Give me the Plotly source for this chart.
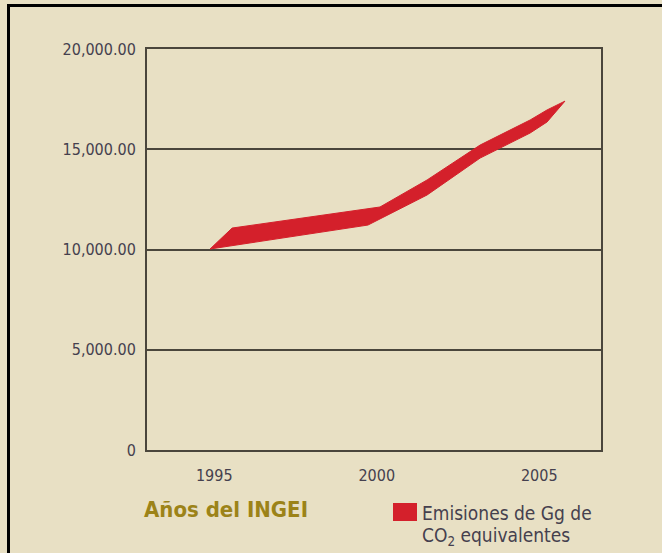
import plotly.graph_objects as go

# ---- data ----
upper_years = [1994.87, 1995.55, 2000.10, 2001.55, 2003.18, 2004.72, 2005.24, 2005.79]
upper_vals = [10025, 11070, 12120, 13470, 15210, 16460, 16960, 17400]
lower_years = [1994.87, 1999.73, 2001.55, 2003.18, 2004.72, 2005.24, 2005.79]
lower_vals = [10025, 11220, 12720, 14560, 15810, 16360, 17400]

x_tick_vals = [1995, 2000, 2005]
x_tick_text = ["1995", "2000", "2005"]
y_tick_vals = [0, 5000, 10000, 15000, 20000]
y_tick_text = ["0", "5,000.00", "10,000.00", "15,000.00", "20,000.00"]

x_title = "Años del INGEI"
legend_line1 = "Emisiones de Gg de"
legend_line2 = "CO<sub>2</sub> equivalentes"

# ---- style ----
W, H = 662, 553
L, R, T, B = 147, 61, 49, 103
PW, PH = W - L - R, H - T - B
BG = "#E8E0C4"
RED = "#D4202B"
GRID = "#4a463c"
TXT = "#45404e"
GOLD = "#9C8318"
FONT = "DejaVu Sans Condensed, Liberation Sans, sans-serif"


def px(xp):
    return (xp - L) / PW


def py(yp):
    return (H - B - yp) / PH


poly_x = upper_years + lower_years[::-1]
poly_y = upper_vals + lower_vals[::-1]

fig = go.Figure()
fig.add_trace(go.Scatter(
    x=poly_x, y=poly_y, mode="lines", fill="toself",
    fillcolor=RED, line=dict(color=RED, width=1),
    name="Emisiones de Gg de CO2 equivalentes", showlegend=False,
    hoverinfo="skip",
))

fig.update_layout(
    width=W, height=H,
    margin=dict(l=L, r=R, t=T, b=B),
    paper_bgcolor=BG, plot_bgcolor=BG,
    font=dict(family=FONT, color=TXT, size=16),
    showlegend=False,
)

fig.update_xaxes(
    range=[1992.93, 2006.90],
    tickvals=x_tick_vals, ticktext=x_tick_text,
    showgrid=False, zeroline=False,
    showline=True, mirror=True, linecolor=GRID, linewidth=2,
    ticks="", ticklabelstandoff=10,
    tickfont=dict(family=FONT, size=16, color=TXT),
)
fig.update_yaxes(
    range=[0, 20000],
    tickvals=y_tick_vals, ticktext=y_tick_text,
    showgrid=True, gridcolor=GRID, gridwidth=2, zeroline=False,
    showline=True, mirror=True, linecolor=GRID, linewidth=2,
    ticks="", ticklabelstandoff=6,
    tickfont=dict(family=FONT, size=16, color=TXT),
)

shapes = [
    # outer frame (top and left edges)
    dict(type="line", xref="paper", yref="paper",
         x0=px(7), x1=px(W + 5), y0=py(5.5), y1=py(5.5),
         line=dict(color="#000000", width=3)),
    dict(type="line", xref="paper", yref="paper",
         x0=px(8.5), x1=px(8.5), y0=py(4), y1=py(H + 5),
         line=dict(color="#000000", width=3)),
    # legend swatch
    dict(type="rect", xref="paper", yref="paper",
         x0=px(393), x1=px(417), y0=py(521), y1=py(503),
         fillcolor=RED, line=dict(width=0)),
]
fig.update_layout(shapes=shapes)

annotations = [
    dict(text="<b>" + x_title + "</b>", xref="paper", yref="paper",
         x=px(142), y=py(509), xanchor="left", yanchor="middle",
         showarrow=False, font=dict(family=FONT, size=22, color=GOLD)),
    dict(text=legend_line1, xref="paper", yref="paper",
         x=px(420), y=py(513), xanchor="left", yanchor="middle",
         showarrow=False, font=dict(family=FONT, size=19, color=TXT)),
    dict(text=legend_line2, xref="paper", yref="paper",
         x=px(420), y=py(536), xanchor="left", yanchor="middle",
         showarrow=False, font=dict(family=FONT, size=19, color=TXT)),
]
fig.update_layout(annotations=annotations)

fig.write_html("out.html", config={"displayModeBar": False},
               post_script="document.body.style.margin='0';")
